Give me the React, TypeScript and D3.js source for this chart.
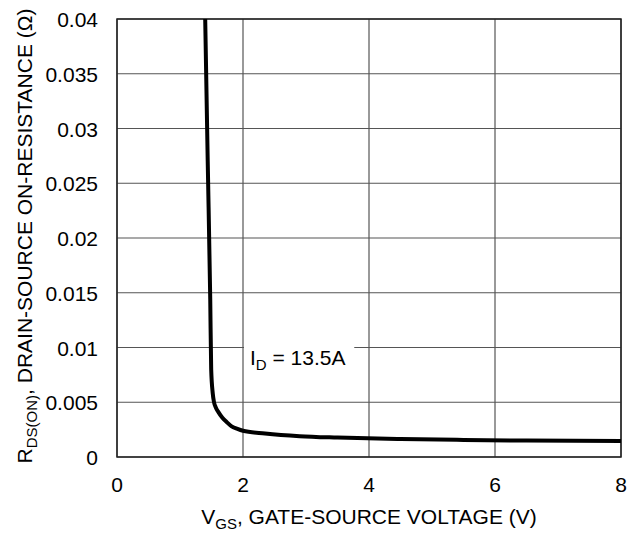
import * as d3 from 'd3';
import React, {useEffect, useRef} from 'react';

// gate-source voltage (V) and on-resistance (ohm)
const vgs = [1.40, 1.44, 1.48, 1.495, 1.52, 1.54, 1.57, 1.61, 1.67, 1.74, 1.82, 1.90, 2.0, 2.35, 2.9, 3.5, 4.5, 5.5, 6.5, 8.0];
const rds = [0.040, 0.027, 0.0144, 0.008, 0.0058, 0.005, 0.0045, 0.0041, 0.0036, 0.0032, 0.0028, 0.0026, 0.0024, 0.00215, 0.0019, 0.00177, 0.00164, 0.00156, 0.0015, 0.00145];

const xTicks = [0, 2, 4, 6, 8];
const yTicks = [0, 0.005, 0.01, 0.015, 0.02, 0.025, 0.03, 0.035, 0.04];
const yTickLabels = ['0', '0.005', '0.01', '0.015', '0.02', '0.025', '0.03', '0.035', '0.04'];

const FONT = 'Liberation Sans, Arial, Helvetica, sans-serif';
const FS = '21px';
const SUB = '15px';

export default function App() {
    const ref = useRef<SVGSVGElement>(null);

    useEffect(() => {
        document.body.style.margin = '0';
        const svg = d3.select(ref.current);
        svg.selectAll('*').remove();

        const margin = {top: 19, right: 21, bottom: 77, left: 117};
        const width = 642 - margin.left - margin.right;
        const height = 534 - margin.top - margin.bottom;

        const x = d3.scaleLinear().domain([0, 8]).range([0, width]);
        const y = d3.scaleLinear().domain([0, 0.04]).range([height, 0]);

        const g = svg.append('g')
            .attr('transform', `translate(${margin.left},${margin.top})`);

        // horizontal grid
        g.selectAll('line.hgrid')
            .data(yTicks)
            .enter()
            .append('line')
            .attr('class', 'hgrid')
            .attr('x1', 0)
            .attr('x2', width)
            .attr('y1', (d) => y(d))
            .attr('y2', (d) => y(d))
            .attr('stroke', '#555')
            .attr('stroke-width', 1.2);

        // white box behind the current label cuts the 0.01 grid line
        g.append('rect')
            .attr('x', x(2) + 1)
            .attr('y', y(0.0108))
            .attr('width', x(3.75) - x(2))
            .attr('height', y(0.0075) - y(0.0108))
            .attr('fill', 'white');

        // vertical grid
        g.selectAll('line.vgrid')
            .data(xTicks)
            .enter()
            .append('line')
            .attr('class', 'vgrid')
            .attr('x1', (d) => x(d))
            .attr('x2', (d) => x(d))
            .attr('y1', 0)
            .attr('y2', height)
            .attr('stroke', '#555')
            .attr('stroke-width', 1.2);

        // frame
        g.append('rect')
            .attr('x', 0)
            .attr('y', 0)
            .attr('width', width)
            .attr('height', height)
            .attr('fill', 'none')
            .attr('stroke', '#222')
            .attr('stroke-width', 1.5);

        // tick labels
        g.selectAll('text.xtick')
            .data(xTicks)
            .enter()
            .append('text')
            .attr('class', 'xtick')
            .attr('x', (d) => x(d))
            .attr('y', height + 35)
            .attr('text-anchor', 'middle')
            .style('font-family', FONT)
            .style('font-size', FS)
            .text((d) => d);

        g.selectAll('text.ytick')
            .data(yTicks)
            .enter()
            .append('text')
            .attr('class', 'ytick')
            .attr('x', -19)
            .attr('y', (d) => y(d) + 8)
            .attr('text-anchor', 'end')
            .style('font-family', FONT)
            .style('font-size', FS)
            .text((d, i) => yTickLabels[i]);

        // curve
        const line = d3.line<number>()
            .x((d, i) => x(vgs[i]))
            .y((d) => y(d))
            .curve(d3.curveMonotoneX);

        g.append('path')
            .datum(rds)
            .attr('d', line)
            .attr('fill', 'none')
            .attr('stroke', 'black')
            .attr('stroke-width', 4)
            .attr('stroke-linejoin', 'round');

        // I_D label
        const lbl = g.append('text')
            .attr('x', x(2) + 7)
            .attr('y', y(0.0085) + 1)
            .style('font-family', FONT)
            .style('font-size', FS);
        lbl.append('tspan').text('I');
        lbl.append('tspan').attr('dy', 5).style('font-size', SUB).text('D');
        lbl.append('tspan').attr('dy', -5).text(' = 13.5A');

        // x axis title
        const xt = g.append('text')
            .attr('x', width / 2)
            .attr('y', height + 67)
            .attr('text-anchor', 'middle')
            .style('font-family', FONT)
            .style('font-size', FS);
        xt.append('tspan').text('V');
        xt.append('tspan').attr('dy', 5).style('font-size', SUB).text('GS');
        xt.append('tspan').attr('dy', -5).text(', GATE-SOURCE VOLTAGE (V)');

        // y axis title
        const yt = g.append('text')
            .attr('transform', `translate(${-85},${height / 2 - 2}) rotate(-90)`)
            .attr('text-anchor', 'middle')
            .style('font-family', FONT)
            .style('font-size', FS);
        yt.append('tspan').text('R');
        yt.append('tspan').attr('dy', 5).style('font-size', SUB).text('DS(ON)');
        yt.append('tspan').attr('dy', -5).text(', DRAIN-SOURCE ON-RESISTANCE (\u03A9)');
    }, []);

    return (
        <svg ref={ref} width={642} height={534}
            style={{display: 'block', background: 'white'}} />
    );
}
